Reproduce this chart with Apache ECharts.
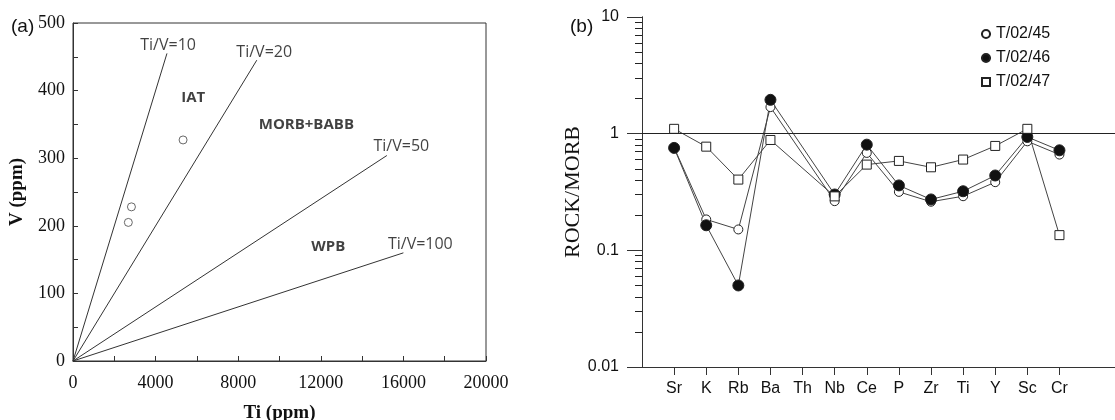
<!DOCTYPE html>
<html>
<head>
<meta charset="utf-8">
<script src="https://cdn.jsdelivr.net/npm/echarts@6/dist/echarts.min.js"></script>
<style>
  html, body { margin: 0; padding: 0; background: #fff; }
  #main { width: 1115px; height: 420px; }
</style>
</head>
<body>
<div id="main"></div>
<script>
// (a) Ti-V diagram
var ratioNames = ['Ti/V=10', 'Ti/V=20', 'Ti/V=50', 'Ti/V=100'];
var lineEndTi = [4550, 8900, 15200, 16000];
var lineEndV = [455, 445, 304, 160];
var sampleTi = [2680, 2830, 5330];
var sampleV = [205, 228, 327];
var xTicksA = [0, 4000, 8000, 12000, 16000, 20000];
var yTicksA = [0, 100, 200, 300, 400, 500];

// (b) MORB-normalised pattern
var elements = ['Sr', 'K', 'Rb', 'Ba', 'Th', 'Nb', 'Ce', 'P', 'Zr', 'Ti', 'Y', 'Sc', 'Cr'];
var sample45 = [0.76, 0.184, 0.151, 1.69, null, 0.264, 0.684, 0.317, 0.261, 0.291, 0.384, 0.86, 0.662];
var sample46 = [0.755, 0.164, 0.050, 1.95, null, 0.301, 0.805, 0.36, 0.273, 0.321, 0.438, 0.937, 0.72];
var sample47 = [1.10, 0.774, 0.404, 0.883, null, 0.29, 0.543, 0.584, 0.515, 0.60, 0.785, 1.10, 0.135];
var yTicksB = [0.01, 0.1, 1, 10];

// field / line annotations (data coordinates of panel a)
var annotations = [
  { text: 'Ti/V=10', ti: 4606, v: 467, bold: false },
  { text: 'Ti/V=20', ti: 9260, v: 457, bold: false },
  { text: 'Ti/V=50', ti: 15900, v: 317, bold: false },
  { text: 'Ti/V=100', ti: 16820, v: 172, bold: false },
  { text: 'IAT', ti: 5820, v: 390, bold: true },
  { text: 'MORB+BABB', ti: 11300, v: 349, bold: true },
  { text: 'WPB', ti: 12360, v: 169, bold: true }
];

// tick helpers
var halfTicksX = [], halfTicksY = [];
for (var t = 0; t <= 20000; t += 2000) halfTicksX.push(t);
for (var u = 0; u <= 500; u += 50) halfTicksY.push(u);
var minorB = [];
[0.01, 0.1, 1].forEach(function (d) {
  for (var k = 2; k <= 9; k++) minorB.push(+(d * k).toPrecision(3));
});
var elemPos = elements.map(function (e, i) { return i + 1; });

var serif = '"Liberation Serif", "DejaVu Serif", serif';
var sans = '"Liberation Sans", Arial, sans-serif';
var ink = '#111';
var axisInk = '#333';

var series = [];
ratioNames.forEach(function (n, i) {
  series.push({
    name: n, type: 'line', xAxisIndex: 0, yAxisIndex: 0,
    data: [[0, 0], [lineEndTi[i], lineEndV[i]]],
    symbol: 'none', silent: true,
    lineStyle: { color: '#333', width: 1 }
  });
});
series.push({
  name: 'samples', type: 'scatter', xAxisIndex: 0, yAxisIndex: 0,
  data: sampleTi.map(function (t, i) { return [t, sampleV[i]]; }),
  symbol: 'circle', symbolSize: 8,
  itemStyle: { color: '#fff', borderColor: '#444', borderWidth: 1 }
});
series.push({
  name: 'notes', type: 'scatter', xAxisIndex: 0, yAxisIndex: 0,
  symbolSize: 0, silent: true,
  data: annotations.map(function (a) {
    return {
      value: [a.ti, a.v],
      label: { show: true, formatter: a.text, position: 'inside',
        fontFamily: '"Open Sans", sans-serif', fontSize: a.bold ? 15 : 16,
        fontWeight: a.bold ? 'bold' : 'normal', color: '#111' }
    };
  })
});

function elemSeries(name, vals, sym, size, fill) {
  return {
    name: name, type: 'line', xAxisIndex: 1, yAxisIndex: 1,
    data: vals.map(function (v, i) { return [i + 1, v]; }),
    connectNulls: true,
    symbol: sym, symbolSize: size, showSymbol: true,
    lineStyle: { color: '#444', width: 1 },
    itemStyle: { color: fill, borderColor: '#222', borderWidth: 1 }
  };
}
var s45 = elemSeries('T/02/45', sample45, 'circle', 9, '#fff');
s45.markLine = {
  silent: true, symbol: 'none', label: { show: false },
  lineStyle: { color: '#222', width: 1, type: 'solid' },
  data: [{ yAxis: 1 }]
};
series.push(s45);
series.push(elemSeries('T/02/46', sample46, 'circle', 11, '#111'));
series.push(elemSeries('T/02/47', sample47, 'rect', 9, '#fff'));

var chart = echarts.init(document.getElementById('main'));
chart.setOption({
  animation: false,
  backgroundColor: '#fff',
  title: [
    { text: '(a)', left: 6, top: 12, textStyle: { fontFamily: sans, fontSize: 19, fontWeight: 'normal', color: ink } },
    { text: '(b)', left: 565, top: 12, textStyle: { fontFamily: sans, fontSize: 19, fontWeight: 'normal', color: ink } }
  ],
  legend: {
    data: ['T/02/45', 'T/02/46', 'T/02/47'],
    orient: 'vertical', left: 975, top: 21,
    itemWidth: 10, itemHeight: 10, itemGap: 8,
    textStyle: { fontFamily: sans, fontSize: 16, color: ink }
  },
  grid: [
    { left: 73, top: 23, width: 413, height: 338, show: true, borderColor: axisInk, borderWidth: 1, outerBoundsMode: 'none' },
    { left: 642, top: 17, right: 0, height: 350, outerBoundsMode: 'none' }
  ],
  xAxis: [
    {
      type: 'value', gridIndex: 0, min: 0, max: 20000, interval: 4000,
      name: 'Ti (ppm)', nameLocation: 'middle', nameGap: 43,
      nameTextStyle: { fontFamily: serif, fontSize: 19, fontWeight: 'bold', color: ink },
      axisLine: { show: true, lineStyle: { color: axisInk } },
      axisTick: { show: true, inside: true, length: 5, customValues: halfTicksX, lineStyle: { color: axisInk } },
      axisLabel: { fontFamily: serif, fontSize: 18, color: ink, margin: 13,
        customValues: xTicksA, formatter: function (v) { return String(v); } },
      splitLine: { show: false }
    },
    {
      type: 'value', gridIndex: 1, min: 0, max: 14.73,
      axisLine: { show: true, lineStyle: { color: axisInk } },
      axisTick: { show: true, length: 8, customValues: elemPos, lineStyle: { color: axisInk } },
      axisLabel: { fontFamily: sans, fontSize: 16, color: ink, margin: 14,
        customValues: elemPos,
        formatter: function (v) { return elements[Math.round(v) - 1] || ''; } },
      splitLine: { show: false }
    }
  ],
  yAxis: [
    {
      type: 'value', gridIndex: 0, min: 0, max: 500, interval: 100,
      name: 'V (ppm)', nameLocation: 'middle', nameGap: 46,
      nameTextStyle: { fontFamily: serif, fontSize: 19, fontWeight: 'bold', color: ink },
      axisLine: { show: true, lineStyle: { color: axisInk } },
      axisTick: { show: true, inside: true, length: 5, customValues: halfTicksY, lineStyle: { color: axisInk } },
      axisLabel: { fontFamily: serif, fontSize: 18, color: ink, margin: 8,
        customValues: yTicksA },
      splitLine: { show: false }
    },
    {
      type: 'log', logBase: 10, gridIndex: 1, min: 0.01, max: 10, position: 'left',
      name: 'ROCK/MORB', nameLocation: 'middle', nameGap: 56,
      nameTextStyle: { fontFamily: serif, fontSize: 22, color: ink },
      axisLine: { show: true, lineStyle: { color: axisInk } },
      axisTick: { show: true, length: 15, customValues: yTicksB, lineStyle: { color: axisInk } },
      axisLabel: { fontFamily: sans, fontSize: 16, color: ink, margin: 23,
        customValues: yTicksB,
        formatter: function (v) { return String(v); } },
      splitLine: { show: false }
    },
    {
      type: 'log', logBase: 10, gridIndex: 1, min: 0.01, max: 10, position: 'left', offset: 0,
      axisLine: { show: true, lineStyle: { color: axisInk } },
      axisTick: { show: true, length: 7, customValues: minorB, lineStyle: { color: '#222', width: 1 } },
      axisLabel: { show: false },
      splitLine: { show: false }
    }
  ],
  series: series
});
</script>
</body>
</html>
